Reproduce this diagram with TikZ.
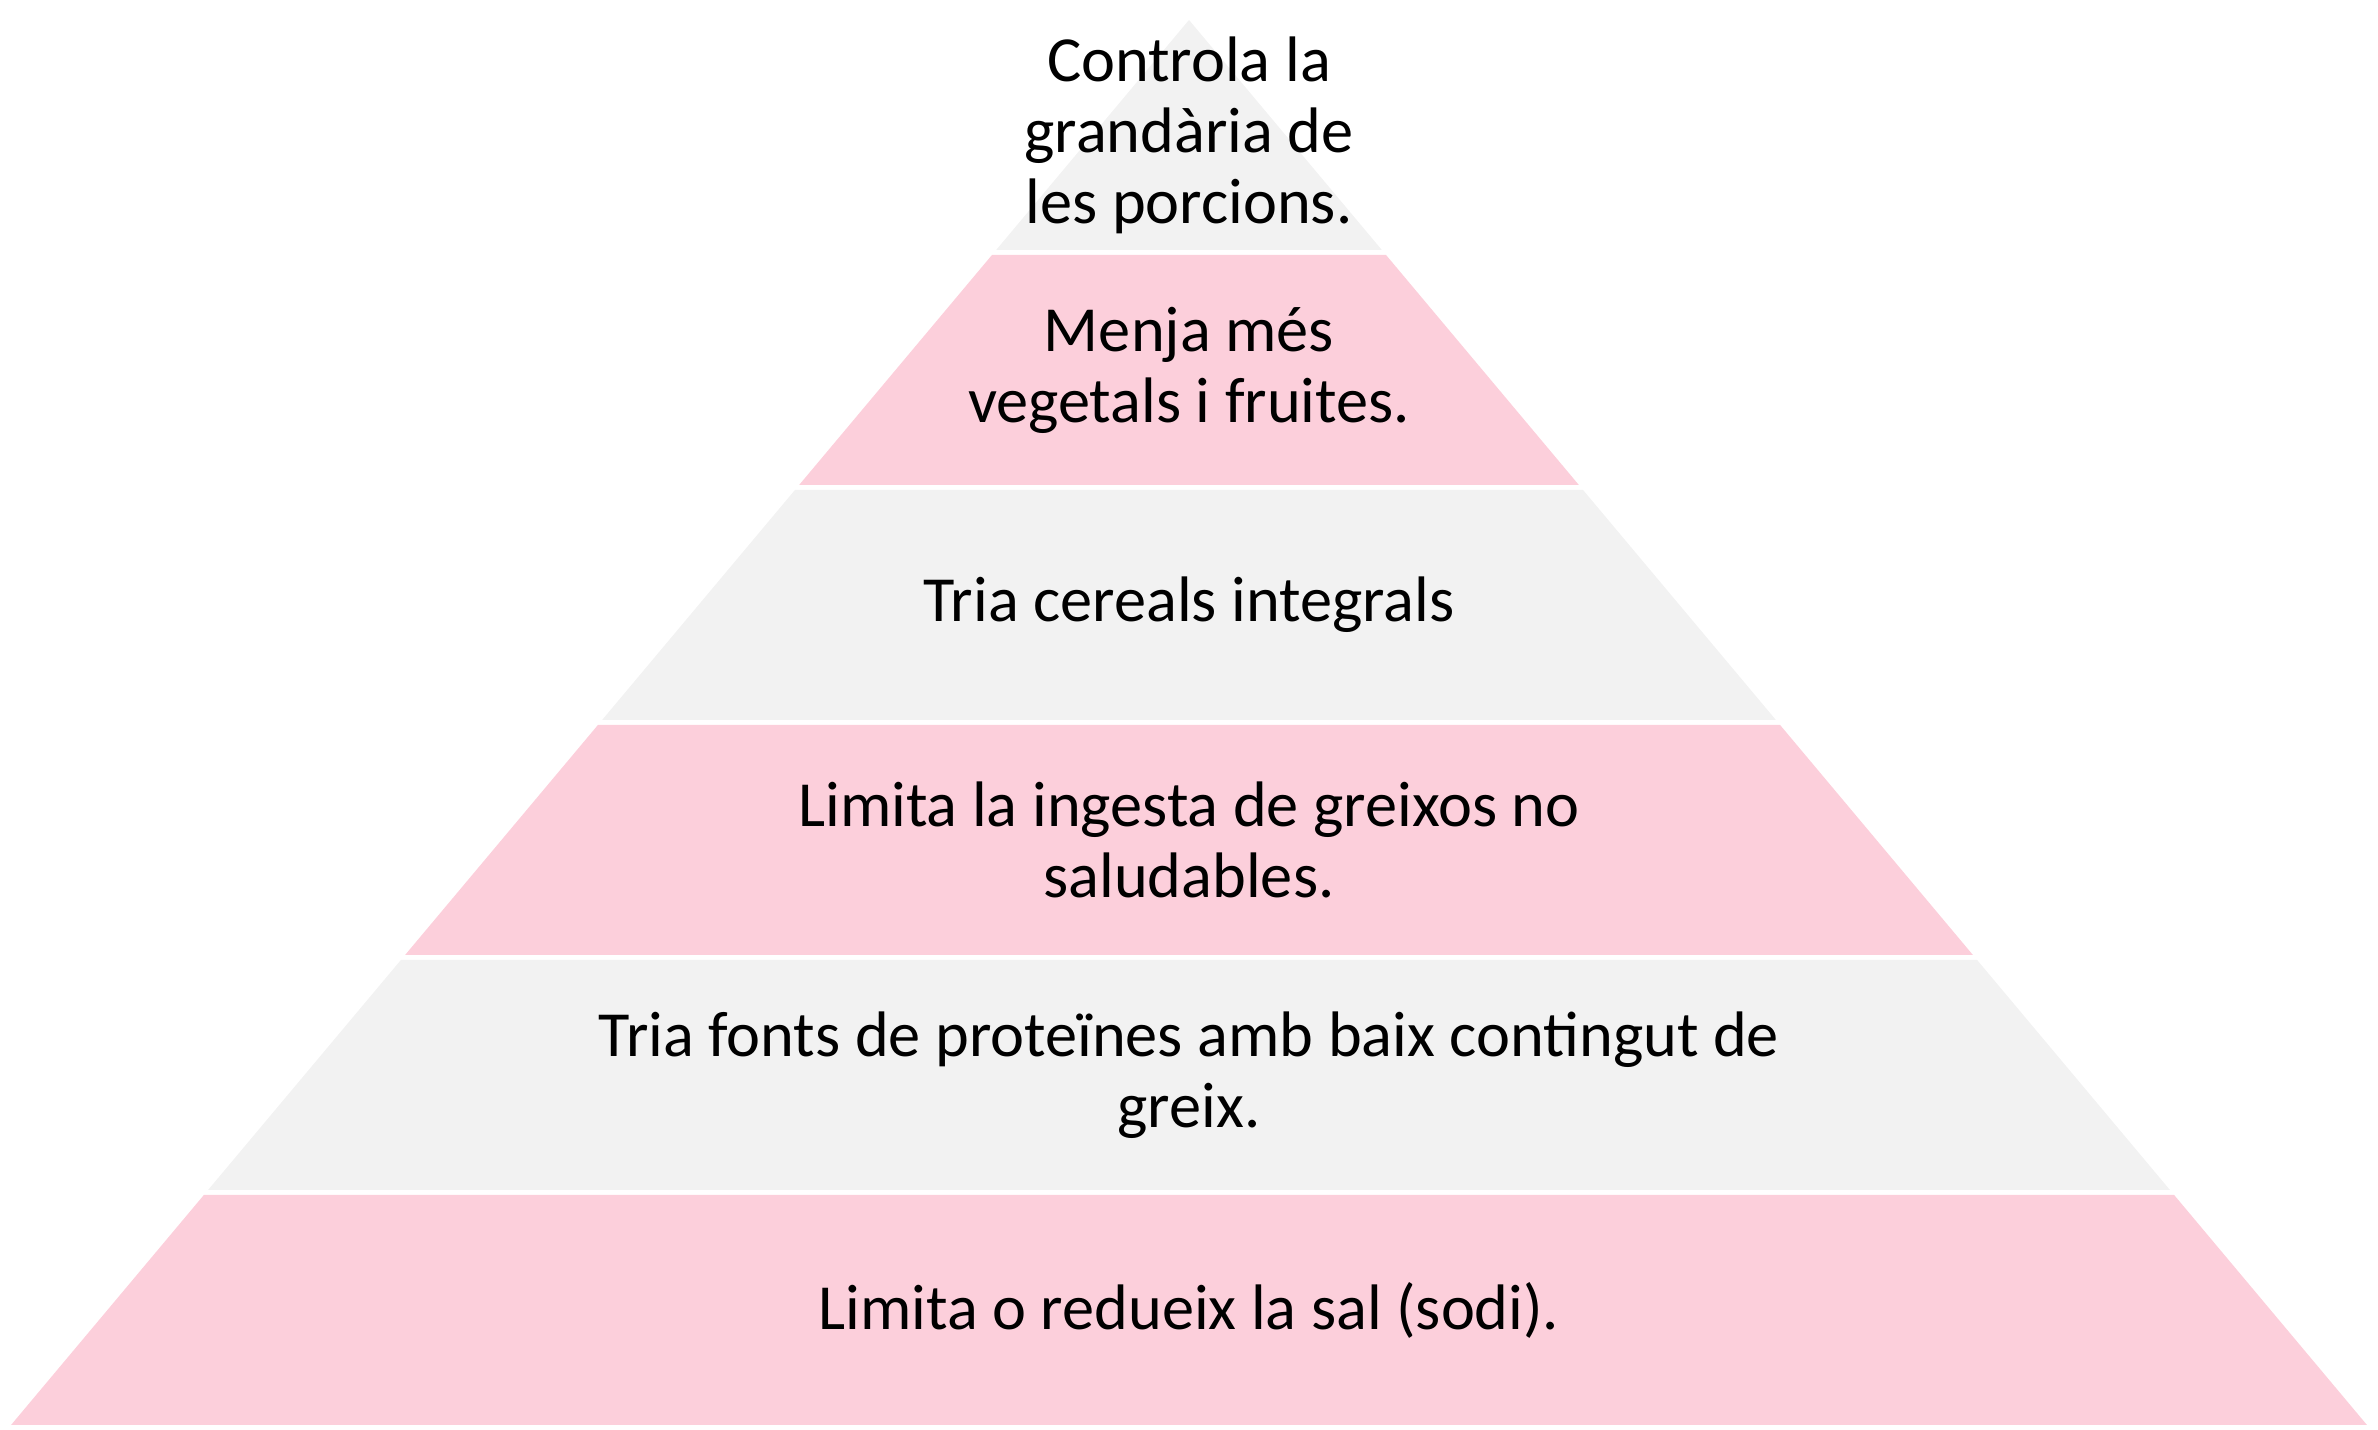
\documentclass[tikz,border=0pt]{standalone}
\usepackage{fontspec}
\setmainfont{Carlito}
\usetikzlibrary{math}
\definecolor{pinkfill}{RGB}{252,207,219}
\definecolor{greyfill}{RGB}{242,242,242}

\begin{document}
\begin{tikzpicture}
    \def\apx{11.89}
    \def\apy{14.10}
    \def\slope{0.8384}
    % each layer is 2.30 high, with a 0.05 white gap below it
    \useasboundingbox (0,0) rectangle (23.78,14.30);
    \foreach \i/\col/\txt in {0/greyfill/{Controla la\\grandària de\\les porcions.},
                              1/pinkfill/{Menja més\\vegetals i fruites.},
                              2/greyfill/{Tria cereals integrals},
                              3/pinkfill/{Limita la ingesta de greixos no\\saludables.},
                              4/greyfill/{Tria fonts de proteïnes amb baix contingut de\\greix.},
                              5/pinkfill/{Limita o redueix la sal (sodi).}} {
      \pgfmathsetmacro\yt{\apy-2.35*\i}
      \pgfmathsetmacro\yb{\yt-2.30}
      \pgfmathsetmacro\wt{(\apy-\yt)*\slope}
      \pgfmathsetmacro\wb{(\apy-\yb)*\slope}
      \fill[\col] ({\apx-\wt},\yt) -- ({\apx+\wt},\yt) -- ({\apx+\wb},\yb) -- ({\apx-\wb},\yb) -- cycle;
      \node[align=center,font=\fontsize{18.3pt}{20.2pt}\selectfont] (lay\i) at (\apx,{(\yt+\yb)/2}) {\txt};
    }
  \end{tikzpicture}
\end{document}
